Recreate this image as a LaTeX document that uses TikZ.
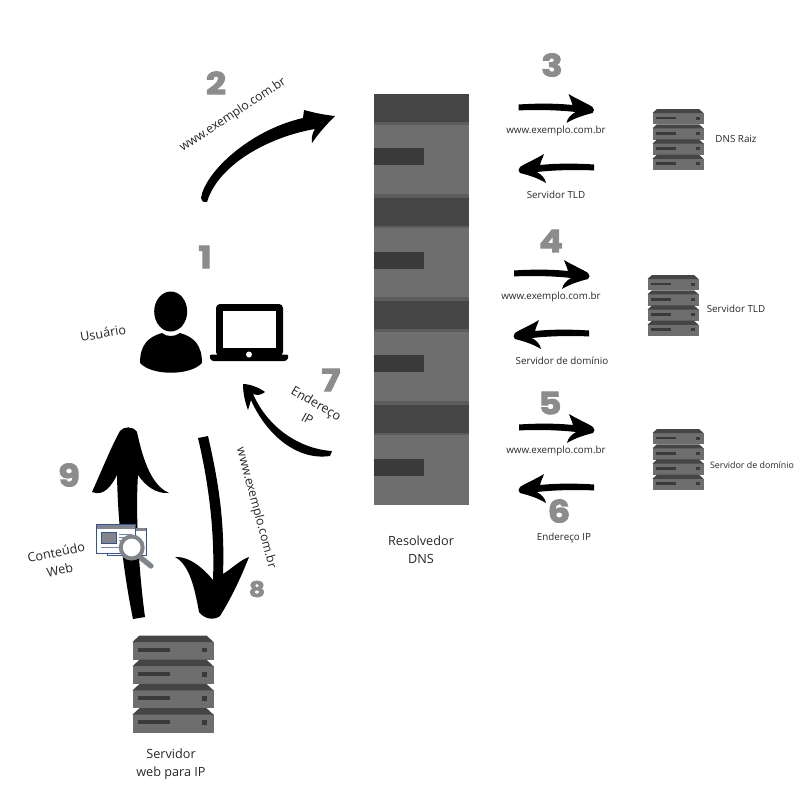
\documentclass[tikz,border=0pt]{standalone}
\usepackage{fontspec}
\setmainfont{Open Sans}
\newfontfamily\numfont[FakeBold=3.2,FakeStretch=1.15]{Poppins}
\definecolor{srvdark}{RGB}{69,69,69}
\definecolor{srvlight}{RGB}{110,110,110}
\definecolor{srvslot}{RGB}{58,58,58}
\definecolor{srvedge}{RGB}{92,92,92}
\definecolor{stepgray}{RGB}{140,140,140}
\definecolor{iconblue}{RGB}{47,85,151}
\definecolor{icongray}{RGB}{130,134,138}
\usetikzlibrary{arrows.meta,positioning}
\tikzset{
  lbl/.style={font=\fontsize{7.35}{9}\selectfont, align=center, text=black!85},
  biglbl/.style={font=\fontsize{9.5}{13.5}\selectfont, align=center, text=black!85},
  urllbl/.style={font=\fontsize{9.2}{12}\selectfont, align=center, text=black!85},
  stepnum/.style={font=\numfont\bfseries\fontsize{23}{24}\selectfont, text=stepgray},
  srvunit/.pic={
    \fill[srvlight] (0,6) rectangle (81,24.5);
    \fill[srvdark] (0,6.5) -- (7,0) -- (74,0) -- (81,6.5) -- cycle;
    \fill[srvslot] (5.7,12.3) rectangle (37.3,16.3);
    \fill[srvslot] (69.3,12.3) rectangle (74.7,16.8);
  },
  server/.pic={
    \pic[transform shape] at (0,0) {srvunit};
    \pic[transform shape] at (0,24.2) {srvunit};
    \pic[transform shape] at (0,48.4) {srvunit};
    \pic[transform shape] at (0,72.6) {srvunit};
  },
  rackunit/.pic={
    \fill[srvdark] (0,0) rectangle (95,28);
    \fill[srvedge] (0,28) rectangle (95,30.5);
    \fill[srvlight] (0,30.5) rectangle (95,100.5);
    \fill[srvslot] (0,54) rectangle (49.5,71);
  },
  %% brush arrow, tail at the origin
  brushright/.pic={
    \fill[black] (0,-2.5) .. controls (15,-3.5) and (35,-4) .. (54,-2)
      .. controls (53,-6) and (51,-10) .. (50,-13)
      .. controls (58,-8) and (68,-4) .. (74,0)
      .. controls (76,1.5) and (76,5) .. (74,6)
      .. controls (66,8) and (56,11) .. (48,16)
      .. controls (49,11) and (52,8) .. (57,5)
      .. controls (40,3) and (15,2.5) .. (0,3.5) -- cycle;
  },
}

\begin{document}
\begin{tikzpicture}[x=0.75pt,y=-0.75pt]
  \useasboundingbox (0,0) rectangle (800,800);

  %% Resolver rack
  \pic at (374,94) {rackunit};
  \pic at (374,197.5) {rackunit};
  \pic at (374,301) {rackunit};
  \pic at (374,404.5) {rackunit};
  \fill[srvedge] (374,193.5) rectangle (469,197.5);
  \fill[srvedge] (374,297) rectangle (469,301);
  \fill[srvedge] (374,400.5) rectangle (469,404.5);
  \node[biglbl] (resolver) at (421,549.5) {Resolvedor\\DNS};

  %% Servers
  \pic at (132.5,635.5) {server};
  \pic[scale=0.63] at (652.5,109) {server};
  \pic[scale=0.63] at (647.5,275) {server};
  \pic[scale=0.63] at (652.5,429) {server};

  \node[biglbl] (webserver) at (171,764) {Servidor\\web para IP};
  \node[lbl] (rootlbl) at (736,138.5) {DNS Raiz};
  \node[lbl] (tldlbl) at (736,309) {Servidor TLD};
  \node[lbl, font=\fontsize{6.65}{9}\selectfont] (domlbl) at (752,465) {Servidor de domínio};

  %% User and laptop
  \fill[black] (170.7,311.5) ellipse (16.5 and 20);
  \fill[black] (140,363) .. controls (140,345) and (148,337) .. (162,333)
    .. controls (166,337) and (175,337) .. (180,333)
    .. controls (194,337) and (202,345) .. (202,363)
    .. controls (190,376) and (152,376) .. cycle;
  \fill[black, rounded corners=3] (216,304) rectangle (283,356);
  \fill[white] (222.5,310.5) rectangle (276,347.5);
  \fill[black, rounded corners=2] (209,354.5) -- (289,354.5) -- (287,361) -- (211,361) -- cycle;
  \fill[white] (249,354.5) circle (3);
  \node[biglbl, rotate=10] (user) at (103,333) {Usuário};

  %% Small arrows
  \pic at (518.5,107) {brushright};
  \pic[xscale=-1] at (594,167) {brushright};
  \pic at (514,273) {brushright};
  \pic[xscale=-1] at (589,333) {brushright};
  \pic at (519,427) {brushright};
  \pic[xscale=-1] at (594,487) {brushright};

  \node[lbl] (q3) at (556,131) {www.exemplo.com.br};
  \node[lbl] (a3) at (556,195) {Servidor TLD};
  \node[lbl] (q4) at (551,297) {www.exemplo.com.br};
  \node[lbl] (a4) at (562,361) {Servidor de domínio};
  \node[lbl] (q5) at (556,451) {www.exemplo.com.br};
  \node[lbl] (a5) at (564,538) {Endereço IP};

  %% Arrow to the resolver
  \fill[black] (201,198) .. controls (205,172) and (250,130) .. (303,118)
    -- (304,110) .. controls (315,113) and (325,115) .. (335,116)
    .. controls (326,125) and (318,134) .. (312,143)
    .. controls (311,137) and (313,132) .. (315,129)
    .. controls (268,137) and (218,165) .. (207,202)
    .. controls (205,203) and (202,202) .. (201,198) -- cycle;
  \node[urllbl, rotate=33.5] (q2) at (233,115) {www.exemplo.com.br};

  %% Arrow back to the user
  \fill[black] (243,384) .. controls (250,384) and (260,388) .. (265,392)
    .. controls (260,396) and (256,395) .. (253,394)
    .. controls (268,428) and (300,449) .. (332,451)
    -- (330,456) .. controls (295,461) and (265,432) .. (251,400)
    -- (248,410) .. controls (245,402) and (243,393) .. (243,384) -- cycle;
  \node[biglbl, rotate=-30] (a7) at (312,411) {Endereço\\IP};

  %% Request to the web server
  \fill[black] (198,438) -- (208,436)
    .. controls (218,480) and (225,520) .. (223,574)
    .. controls (230,570) and (240,560) .. (249,557)
    .. controls (240,580) and (230,600) .. (220,616)
    .. controls (215,620) and (205,620) .. (199,612)
    .. controls (195,590) and (190,565) .. (175,557)
    .. controls (190,556) and (205,570) .. (213,580)
    .. controls (215,530) and (208,480) .. (198,438) -- cycle;
  \node[urllbl, rotate=-75] (q8) at (256,508) {www.exemplo.com.br};

  %% Content back to the user
  \fill[black] (133,619) .. controls (125,580) and (118,530) .. (117,475)
    .. controls (112,485) and (104,497) .. (92,492)
    .. controls (102,470) and (112,445) .. (120,431)
    .. controls (124,426) and (133,426) .. (137,432)
    .. controls (142,455) and (150,485) .. (169,493)
    .. controls (155,494) and (145,485) .. (138,475)
    .. controls (135,520) and (140,580) .. (145,617) -- cycle;

  %% Page and magnifier icon
  \draw[iconblue, fill=white, line width=0.7pt] (107.5,528) rectangle (146,555.5);
  \fill[icongray] (107.5,528) rectangle (146,531);
  \draw[iconblue, fill=white, line width=0.7pt] (96.7,524.5) rectangle (135,553.5);
  \fill[icongray] (96.7,524.5) rectangle (135,529);
  \draw[iconblue, fill=icongray, line width=0.6pt] (101,532.5) rectangle (116.7,543.5);
  \draw[iconblue!70, line width=0.6pt] (119,534) -- (132,534);
  \draw[iconblue!70, line width=0.6pt] (119,537) -- (130,537);
  \draw[iconblue!70, line width=0.6pt] (119,540) -- (128,540);
  \draw[iconblue!70, line width=0.6pt] (101,547) -- (122,547);
  \draw[icongray, line width=4pt, line cap=round] (141,558) -- (151,566);
  \draw[icongray, fill=white, line width=3pt] (131.7,547.5) circle (11);
  \node[biglbl, rotate=12] (content) at (58,561) {Conteúdo\\Web};

  %% Step numbers
  \node[stepnum] (s1) at (205,257) {1};
  \node[stepnum] (s2) at (216,83) {2};
  \node[stepnum] (s3) at (552,65) {3};
  \node[stepnum] (s4) at (551,241) {4};
  \node[stepnum] (s5) at (550,403) {5};
  \node[stepnum] (s6) at (559,511) {6};
  \node[stepnum] (s7) at (331,380) {7};
  \node[stepnum, font=\numfont\bfseries\fontsize{16}{17}\selectfont] (s8) at (257,589) {8};
  \node[stepnum] (s9) at (69,475) {9};
\end{tikzpicture}
\end{document}
